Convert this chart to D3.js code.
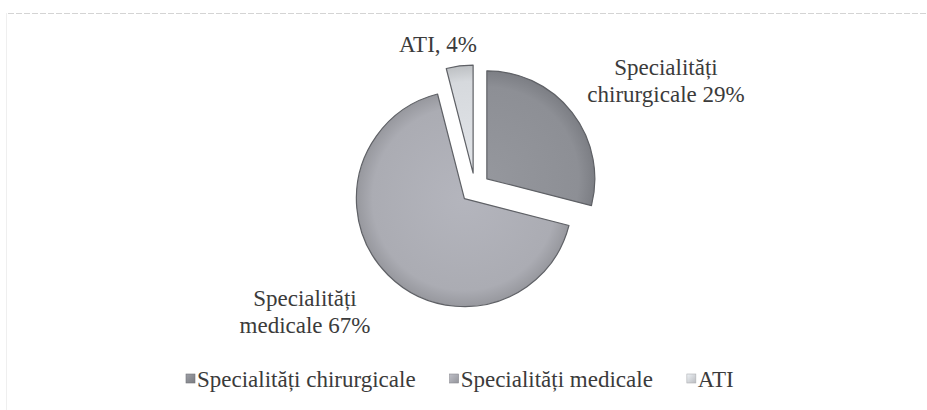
<!DOCTYPE html>
<html>
<head>
<meta charset="utf-8">
<script src="https://cdn.jsdelivr.net/npm/d3@7"></script>
<style>
  body { margin: 0; background: #fff; }
  svg { display: block; }
  svg text { font-family: "Liberation Serif", "DejaVu Serif", serif; }
</style>
</head>
<body>
<div id="chart"></div>
<script>
const categories = ["Specialități chirurgicale", "Specialități medicale", "ATI"];
const values = [29, 67, 4];
const labelLines = [
  ["Specialități", "chirurgicale 29%"],
  ["Specialități", "medicale 67%"],
  ["ATI, 4%"]
];
const colors = ["#8d8f95", "#abacb3", "#d6d9dd"];

const width = 927, height = 410;
const cx = 475, cy = 188, radius = 108, explode = 15;
const fontSize = 23;

// where each label sits, relative to the pie centre
const labelPos = [{dx: 191, dy: -113}, {dx: -170, dy: 118}, {dx: -37, dy: -136}];

const svg = d3.select("#chart").append("svg")
    .attr("width", width)
    .attr("height", height);

const defs = svg.append("defs");
colors.forEach((c, i) => {
  const g = defs.append("radialGradient")
      .attr("id", "grad" + i)
      .attr("gradientUnits", "userSpaceOnUse")
      .attr("cx", 0).attr("cy", 0).attr("r", radius);
  g.append("stop").attr("offset", "0%").attr("stop-color", d3.color(c).brighter(0.15));
  g.append("stop").attr("offset", "85%").attr("stop-color", c);
  g.append("stop").attr("offset", "100%").attr("stop-color", d3.color(c).darker(0.35));
  const lg = defs.append("linearGradient")
      .attr("id", "lgrad" + i)
      .attr("x1", 0).attr("y1", 0).attr("x2", 1).attr("y2", 1);
  lg.append("stop").attr("offset", "0%").attr("stop-color", d3.color(c).brighter(0.3));
  lg.append("stop").attr("offset", "100%").attr("stop-color", d3.color(c).darker(0.4));
});

// faint frame of the scanned chart area
svg.append("line")
    .attr("x1", 8).attr("x2", width).attr("y1", 13.5).attr("y2", 13.5)
    .attr("stroke", "#d4d4d4").attr("stroke-width", 1).attr("stroke-dasharray", "6,2");
svg.append("line")
    .attr("x1", 6.5).attr("x2", 6.5).attr("y1", 13).attr("y2", height)
    .attr("stroke", "#efefef").attr("stroke-width", 1);

const pie = d3.pie().sort(null).value(d => d)(values);
const arc = d3.arc().innerRadius(0).outerRadius(radius);

svg.append("g")
    .attr("transform", `translate(${cx},${cy})`)
    .selectAll("path")
    .data(pie)
    .join("path")
    .attr("transform", d => {
      const a = (d.startAngle + d.endAngle) / 2;
      return `translate(${explode * Math.sin(a)},${-explode * Math.cos(a)})`;
    })
    .attr("d", arc)
    .attr("fill", (d, i) => `url(#grad${i})`)
    .attr("stroke", "#5f6166")
    .attr("stroke-width", 1.2)
    .attr("stroke-linejoin", "round");

const labels = svg.append("g")
    .attr("font-size", fontSize)
    .attr("fill", "#3b3b3b")
    .attr("text-anchor", "middle");

labelLines.forEach((lines, i) => {
  const t = labels.append("text")
      .attr("x", cx + labelPos[i].dx)
      .attr("y", cy + labelPos[i].dy);
  lines.forEach((ln, j) => {
    t.append("tspan")
        .attr("x", cx + labelPos[i].dx)
        .attr("dy", j === 0 ? 0 : 27)
        .text(ln);
  });
});

// legend
const legend = svg.append("g")
    .attr("font-size", fontSize)
    .attr("fill", "#3b3b3b");

const legendY = 387;
let lx = 186;
categories.forEach((name, i) => {
  legend.append("rect")
      .attr("x", lx).attr("y", legendY - 13)
      .attr("width", 9).attr("height", 9)
      .attr("fill", `url(#lgrad${i})`)
      .attr("stroke", d3.color(colors[i]).darker(0.6))
      .attr("stroke-width", 0.6);
  const t = legend.append("text")
      .attr("x", lx + 11)
      .attr("y", legendY)
      .text(name);
  lx += 11 + t.node().getComputedTextLength() + 34;
});
</script>
</body>
</html>
